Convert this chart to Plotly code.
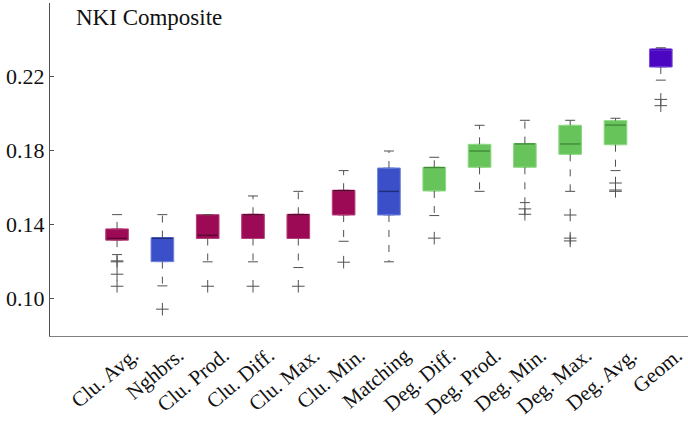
import plotly.graph_objects as go

categories = ["Clu. Avg.", "Nghbrs.", "Clu. Prod.", "Clu. Diff.", "Clu. Max.", "Clu. Min.",
              "Matching", "Deg. Diff.", "Deg. Prod.", "Deg. Min.", "Deg. Max.", "Deg. Avg.", "Geom."]
groups = ["clu", "nb", "clu", "clu", "clu", "clu", "nb", "deg", "deg", "deg", "deg", "deg", "geom"]
upper_cap = [0.1451, 0.1451, 0.1451, 0.1552, 0.1577, 0.1689, 0.1795, 0.1761, 0.1934, 0.1961, 0.1961, 0.1972, 0.2353]
q3 =        [0.1374, 0.1327, 0.1451, 0.1453, 0.1453, 0.1583, 0.1703, 0.1707, 0.1831, 0.1835, 0.1934, 0.1959, 0.2346]
median =    [0.1322, 0.1323, 0.1340, 0.1450, 0.1450, 0.1580, 0.1577, 0.1705, 0.1795, 0.1833, 0.1833, 0.1935, 0.2344]
q1 =        [0.1313, 0.1197, 0.1322, 0.1322, 0.1322, 0.1449, 0.1449, 0.1579, 0.1707, 0.1707, 0.1777, 0.1829, 0.2249]
lower_cap = [0.1235, 0.1066, 0.1196, 0.1196, 0.1165, 0.1307, 0.1196, 0.1446, 0.1577, 0.1516, 0.1577, 0.1689, 0.2178]
outliers = [
    [0.1201, 0.1196, 0.1129, 0.1064],
    [0.0940],
    [0.1064],
    [0.1064],
    [0.1064],
    [0.1194],
    [],
    [0.1324],
    [],
    [0.1482, 0.1453],
    [0.1449, 0.1324, 0.1309],
    [0.1622, 0.1584, 0.1577],
    [0.2074, 0.2040],
]
y_ticks = [0.10, 0.14, 0.18, 0.22]

fill = {"clu": "#9C0A55", "nb": "#3A4FC8", "deg": "#66C45A", "geom": "#4A06C0"}
edge = {"clu": "#B8407A", "nb": "#6F80DA", "deg": "#8ED884", "geom": "#7A4AD6"}
med_c = {"clu": "#5E0030", "nb": "#1E2C80", "deg": "#3E8A34", "geom": "#4A06C0"}
serif = "'Liberation Serif', 'Times New Roman', Times, serif"

fig = go.Figure()
pos = list(range(1, len(categories) + 1))
bw = 0.5
cw = 0.22
wc = "#505050"

for i, p in enumerate(pos):
    g = groups[i]
    fig.add_trace(go.Scatter(x=[p, p, None, p, p], y=[q3[i], upper_cap[i], None, q1[i], lower_cap[i]],
                             mode="lines", line=dict(color=wc, width=1, dash="7px,8px"),
                             showlegend=False, hoverinfo="skip"))
    fig.add_trace(go.Scatter(x=[p - cw / 2, p + cw / 2, None, p - cw / 2, p + cw / 2],
                             y=[upper_cap[i], upper_cap[i], None, lower_cap[i], lower_cap[i]],
                             mode="lines", line=dict(color=wc, width=1),
                             showlegend=False, hoverinfo="skip"))
    fig.add_trace(go.Box(x=[p], q1=[q1[i]], median=[median[i]], q3=[q3[i]],
                         lowerfence=[q1[i]], upperfence=[q3[i]], width=bw,
                         fillcolor=fill[g], line=dict(color=edge[g], width=1),
                         showlegend=False, hoverinfo="skip"))
    fig.add_trace(go.Scatter(x=[p - bw / 2 + 0.02, p + bw / 2 - 0.02], y=[median[i], median[i]],
                             mode="lines", line=dict(color=med_c[g], width=1.5),
                             showlegend=False, hoverinfo="skip"))
    if outliers[i]:
        fig.add_trace(go.Scatter(x=[p] * len(outliers[i]), y=outliers[i], mode="markers",
                                 marker=dict(symbol="cross-thin-open", size=9, color=wc,
                                             line=dict(color=wc, width=1)),
                                 showlegend=False, hoverinfo="skip"))

fig.add_annotation(text="NKI Composite", xref="paper", yref="paper", x=0.037, y=1.0,
                   xanchor="left", yanchor="top", showarrow=False,
                   font=dict(family=serif, size=23, color="#111111"))

fig.update_layout(
    width=688, height=421,
    margin=dict(l=50, r=0, t=3, b=85),
    paper_bgcolor="white", plot_bgcolor="white",
    font=dict(family=serif, size=22, color="#111111"),
    xaxis=dict(range=[-0.48, 13.6], tickmode="array", tickvals=pos, ticktext=categories,
               tickangle=-40, showgrid=False, zeroline=False, showline=True,
               linecolor="#808080", linewidth=1, ticks="", ticklabelshift=16,
               ticklabeloverflow="allow", ticklabelstandoff=-2,
               tickfont=dict(family=serif, size=21), automargin=False),
    yaxis=dict(range=[0.0795, 0.2595], tickmode="array", tickvals=y_ticks,
               ticktext=["%.2f" % v for v in y_ticks], showgrid=False, zeroline=False,
               showline=True, linecolor="#505050", linewidth=1, ticks="inside", ticklen=4,
               tickcolor="#505050", automargin=False, tickfont=dict(family=serif, size=22),
               ticklabelstandoff=0),
)

fig.write_html("out.html", config={"displayModeBar": False},
               post_script="document.body.style.margin='0';document.body.style.overflow='hidden';")
